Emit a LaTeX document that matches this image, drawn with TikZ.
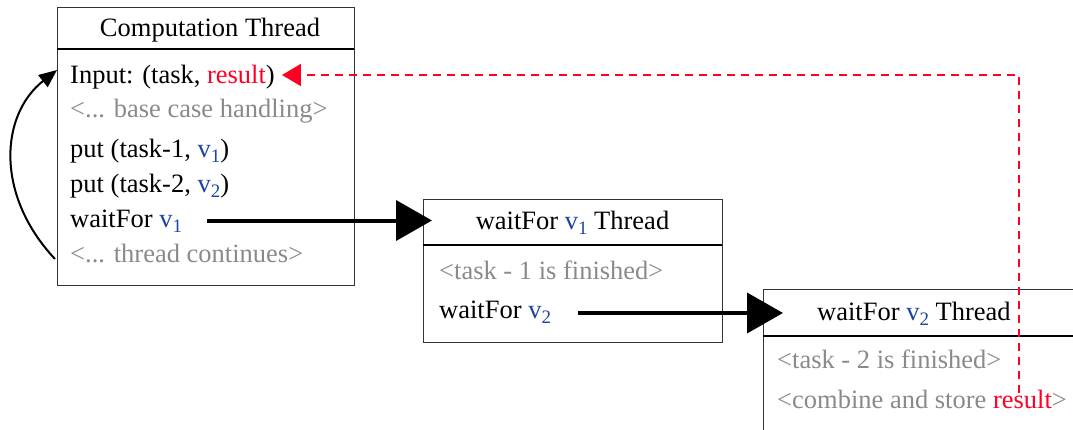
\documentclass[tikz,border=0pt]{standalone}
\usepackage{fontspec}
\setmainfont{Liberation Serif}
\usetikzlibrary{arrows.meta}
\definecolor{vblue}{HTML}{1A45A0}
\definecolor{hintgray}{HTML}{8A8A8A}
\definecolor{resred}{HTML}{FF0022}
\definecolor{framegray}{HTML}{333333}
\newcommand{\vv}[1]{\textcolor{vblue}{v\raisebox{-5.5bp}{\fontsize{19bp}{19bp}\selectfont #1}}}
\newcommand{\res}{\textcolor{resred}{result}}
\begin{document}
\begin{tikzpicture}[x=1bp,y=-1bp,
  txt/.style={anchor=base west, inner sep=0pt, font=\fontsize{26.5bp}{30bp}\selectfont},
  hint/.style={txt, text=hintgray},
  title/.style={txt, anchor=base},
  threadbox/.style={draw=framegray, line width=1.3bp, anchor=north west, inner sep=0pt},
  sep/.style={line width=2.2bp, black},
  flow/.style={line width=4bp, -{Triangle[length=36bp,width=40bp]}},
  back/.style={line width=2bp, -{Triangle[length=18bp,width=15bp]}},
  ret/.style={resred, line width=2bp, dash pattern=on 8bp off 6bp,
              -{Triangle[length=19bp,width=22bp]}}
]
\useasboundingbox (0,0) rectangle (1073,429);
\clip (0,0) rectangle (1073,429);

% Computation thread
\node[threadbox, minimum width=297bp, minimum height=278bp] (b1) at (57,7) {};
\draw[sep] (57,49) -- (354,49);
\node[title] (t1) at (210,36) {Computation Thread};
\node[txt]  (in)  at (70,83)  {Input: (task, \res)};
\node[hint] (bc)  at (70,117) {<... base case handling>};
\node[txt]  (p1)  at (70,157) {put (task-1, \vv{1})};
\node[txt]  (p2)  at (70,192) {put (task-2, \vv{2})};
\node[txt]  (w1)  at (70,227) {waitFor \vv{1}};
\node[hint] (tc)  at (70,262) {<... thread continues>};

% waitFor v1 thread
\node[threadbox, minimum width=299bp, minimum height=143bp] (b2) at (423,199) {};
\draw[sep] (423,245) -- (722,245);
\node[title] (t2) at (572.5,229) {waitFor \vv{1} Thread};
\node[hint] (f1) at (439,279) {<task - 1 is finished>};
\node[txt]  (w2) at (439,318) {waitFor \vv{2}};

% waitFor v2 thread
\node[threadbox, minimum width=330bp, minimum height=160bp] (b3) at (763,289) {};
\draw[sep] (763,336) -- (1093,336);
\node[txt]  (t3) at (817,320) {waitFor \vv{2} Thread};
\node[hint] (f2) at (777,368) {<task - 2 is finished>};
\node[hint] (cs) at (777,408) {<combine and store \res>};

% control flow
\coordinate (a1s) at ([xshift=25bp]w1.east |- 0,220.5);
\coordinate (a1e) at (432,220.5);
\draw[flow] (a1s) -- (a1e);
\coordinate (a2s) at ([xshift=27bp]w2.east |- 0,313);
\coordinate (a2e) at (783,313);
\draw[flow] (a2s) -- (a2e);

% loop back to the input
\coordinate (ls) at (55,259);
\coordinate (le) at (57,70);
\draw[back] (ls) .. controls (-5,195) and (0,115) .. (le);

% result handed back
\coordinate (rs) at (1019,393);
\coordinate (rc) at (1019,75);
\coordinate (re) at ([xshift=7bp]in.east |- 0,75);
\draw[ret] (rs) -- (rc) -- (re);
\end{tikzpicture}
\end{document}
